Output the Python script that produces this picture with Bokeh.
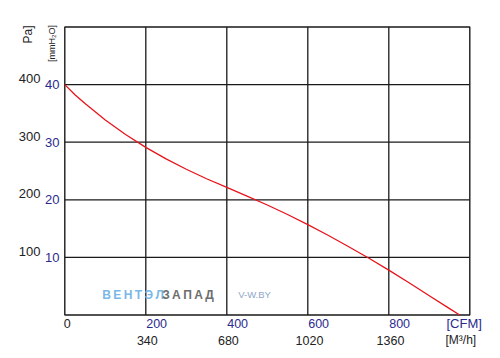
import math
from bokeh.plotting import figure
from bokeh.models import Range1d
from bokeh.core.properties import value
from bokeh.embed import file_html
from bokeh.resources import INLINE

# ---- data ----
flow_cfm = [0, 25, 50, 100, 150, 200, 250, 300, 350, 400, 450, 500, 550,
            600, 650, 700, 750, 800, 850, 900, 950, 975]
pressure_mmh2o = [40.0, 38.25, 36.7, 33.85, 31.35, 29.1, 27.1, 25.3, 23.65,
                  22.15, 20.65, 19.1, 17.45, 15.7, 13.85, 11.9, 9.9, 7.8, 5.6,
                  3.35, 1.1, 0.0]

cfm_ticks = [200, 400, 600, 800]
m3h_ticks = [340, 680, 1020, 1360]
mm_ticks = [10, 20, 30, 40]
pa_ticks = [100, 200, 300, 400]
cfm_labels = [str(t) for t in cfm_ticks]
m3h_labels = [str(t) for t in m3h_ticks]
mm_labels = [str(t) for t in mm_ticks]
pa_labels = [str(t) for t in pa_ticks]

X_MAX = 1000      # CFM at right border
Y_MAX = 50        # mmH2O at top border
M3H_PER_CFM = 1.699

# ---- layout (pixels) ----
W, H = 484, 350
FL, FR, FT, FB = 64.3, 469.3, 26.5, 314.5

BLUE = "#2b2a8e"
BLACK = "#222222"
FONT = "Liberation Sans"

sx = X_MAX / (FR - FL)
sy = Y_MAX / (FB - FT)
p = figure(width=W, height=H, output_backend="svg", toolbar_location=None,
           x_range=Range1d(-FL * sx, (W - FL) * sx),
           y_range=Range1d(-(H - FB) * sy, Y_MAX + FT * sy),
           x_axis_type=None, y_axis_type=None,
           min_border=0, min_border_left=0, min_border_right=0,
           min_border_top=0, min_border_bottom=0)
p.outline_line_color = None
p.grid.visible = False
p.background_fill_color = "white"
p.border_fill_color = "white"

GRID = "#1a1a1a"
# grid lines
p.segment(x0=cfm_ticks, y0=[0] * len(cfm_ticks), x1=cfm_ticks,
          y1=[Y_MAX] * len(cfm_ticks), line_color=GRID, line_width=1.3)
p.segment(x0=[0] * len(mm_ticks), y0=mm_ticks, x1=[X_MAX] * len(mm_ticks),
          y1=mm_ticks, line_color=GRID, line_width=1.3)
# border box
p.quad(left=[0], right=[X_MAX], bottom=[0], top=[Y_MAX], fill_color=None,
       line_color=GRID, line_width=1.4)

# curve
p.line(flow_cfm, pressure_mmh2o, line_color="#e8141c", line_width=1.3,
       line_join="round")


def txt(x, y, text, color, size, align="left", dx=0, dy=0, angle=0,
        style="normal"):
    p.text(x=x, y=y, text=text, text_color=color, text_font=value(FONT),
           text_font_size=size, text_align=align, text_baseline="middle",
           x_offset=dx, y_offset=dy, angle=angle, text_font_style=style)


# left tick labels
txt([0] * len(mm_ticks), mm_ticks, mm_labels, BLUE, "13px", "right", dx=-5.3)
txt([0] * len(pa_ticks), [v / 10 for v in pa_ticks], pa_labels, BLACK, "13px",
    "right", dx=-24.3, dy=-6)
# bottom tick labels
txt(cfm_ticks, [0] * len(cfm_ticks), cfm_labels, BLUE, "12.5px", "left",
    dx=0.4, dy=8.8)
txt([t / M3H_PER_CFM for t in m3h_ticks], [0] * len(m3h_ticks), m3h_labels,
    BLACK, "12.5px", "center", dx=1.5, dy=25.5)
txt([0], [0], ["0"], BLACK, "12.5px", "left", dx=-1, dy=8.8)
# unit labels
txt([X_MAX], [0], ["[CFM]"], BLUE, "13px", "left", dx=-23.3, dy=8.8)
txt([X_MAX], [0], ["[M\u00b3/h]"], BLACK, "12px", "left", dx=-24.3, dy=25)
txt([0], [Y_MAX], ["Pa]"], BLACK, "12px", "center", dx=-37.3, dy=7.5,
    angle=math.pi / 2)
txt([0], [Y_MAX], ["[mmH\u2082O]"], BLACK, "9px", "center", dx=-13, dy=16.5,
    angle=math.pi / 2)

# watermark
ts = "\u2009"
txt([0], [0], [ts.join("ВЕНТЭЛ")], "#7ab8e8", "12px", "left", dx=37.4,
    dy=-20.2, style="bold")
txt([0], [0], [ts.join("ЗАПАД")], "#6d6d6d", "12px", "left", dx=97.4,
    dy=-20.2, style="bold")
txt([0], [0], ["V-W.BY"], "#8ea6c8", "9.5px", "left", dx=173.4, dy=-20.2)

open("out.html", "w").write(file_html(p, INLINE))
